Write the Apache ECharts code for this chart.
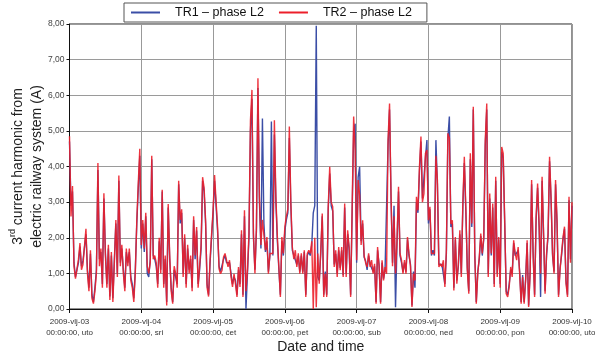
<!DOCTYPE html>
<html>
<head>
<meta charset="utf-8">
<script src="https://cdn.jsdelivr.net/npm/echarts@6/dist/echarts.min.js"></script>
<style>
html,body{margin:0;padding:0;background:#fff;}
#chart{width:595px;height:360px;}
</style>
</head>
<body>
<div id="chart"></div>
<script>
// 3rd harmonic current (A), one reading every 30 minutes, 2009-vlj-03 00:00 .. 2009-vlj-10 00:00
const stepHours = 0.5;

const tickLabels = [
  '2009-vlj-03\n00:00:00, uto',
  '2009-vlj-04\n00:00:00, sri',
  '2009-vlj-05\n00:00:00, čet',
  '2009-vlj-06\n00:00:00, pet',
  '2009-vlj-07\n00:00:00, sub',
  '2009-vlj-08\n00:00:00, ned',
  '2009-vlj-09\n00:00:00, pon',
  '2009-vlj-10\n00:00:00, uto'
];

// TR2 – phase L2, per day
const tr2Day03 = [4.85, 2.6, 3.45, 1.2, 0.85, 0.8, 1.4, 1.85, 1.1, 1.25, 1.3, 2.25, 1.0, 0.5, 1.65, 0.3, 0.15, 0.5, 1.0, 4.1, 1.2, 1.7, 0.6, 3.25, 1.5, 0.6, 1.8, 0.25, 1.6, 0.2, 1.3, 2.5, 0.9, 3.75, 1.2, 1.8, 1.0, 0.5, 1.7, 1.2, 1.7, 0.8, 0.6, 0.2, 1.0, 2.5, 3.55, 4.5];
const tr2Day04 = [1.8, 2.5, 1.7, 2.7, 1.2, 1.0, 1.3, 4.3, 1.4, 1.5, 1.3, 0.6, 2.0, 1.0, 3.35, 0.6, 1.5, 0.1, 2.95, 1.5, 0.5, 0.15, 1.2, 1.0, 0.6, 3.6, 2.5, 2.8, 0.9, 2.1, 0.6, 1.8, 1.0, 1.5, 0.5, 2.6, 1.5, 2.3, 0.6, 1.2, 1.8, 3.7, 3.4, 2.5, 0.6, 0.35, 1.4, 2.1];
const tr2Day05 = [2.77, 3.76, 3.71, 2.31, 1.13, 0.99, 1.09, 1.46, 1.56, 1.37, 1.18, 1.37, 0.9, 0.62, 0.99, 0.7, 0.34, 1.18, 0.62, 2.21, 0.34, 2.77, 0.5, 1.09, 2.12, 5.3, 6.15, 2.12, 1.0, 2.31, 6.48, 3.15, 1.8, 2.5, 2.49, 1.65, 2.02, 0.99, 1.56, 1.6, 1.56, 5.3, 3.15, 2.02, 1.18, 0.34, 2.02, 1.56];
const tr2Day06 = [2.31, 2.6, 2.8, 5.12, 3.0, 1.74, 1.4, 1.65, 1.18, 1.56, 0.99, 1.56, 0.99, 1.65, 0.34, 1.56, 1.65, 1.56, 1.9, 0.0, 2.0, 0.05, 1.56, 0.71, 1.65, 2.68, 0.34, 0.99, 0.34, 2.87, 3.99, 3.0, 2.87, 1.18, 1.65, 0.9, 1.74, 1.09, 1.74, 0.9, 2.96, 0.9, 2.21, 1.74, 0.34, 0.34, 5.4, 4.46];
const tr2Day07 = [1.37, 3.62, 3.2, 1.8, 2.49, 1.5, 1.3, 1.18, 1.56, 1.18, 1.37, 0.99, 1.27, 0.15, 1.74, 1.2, 0.15, 1.37, 0.8, 1.18, 0.99, 4.74, 5.77, 3.2, 1.2, 2.6, 1.0, 1.93, 3.43, 1.56, 1.37, 0.99, 1.37, 0.99, 2.02, 1.56, 1.2, 0.06, 0.99, 0.8, 3.15, 2.77, 3.99, 4.84, 3.0, 3.24, 4.37, 4.46];
const tr2Day08 = [2.49, 2.87, 1.56, 1.56, 1.56, 4.3, 3.62, 1.18, 1.27, 1.18, 1.37, 0.62, 1.65, 4.93, 4.8, 2.39, 2.49, 0.52, 2.02, 0.71, 1.27, 2.21, 0.9, 2.96, 4.27, 2.87, 1.09, 0.43, 4.37, 2.4, 5.68, 1.56, 0.15, 0.99, 1.46, 2.12, 1.56, 2.02, 4.74, 5.77, 0.9, 3.24, 1.56, 2.96, 0.62, 3.71, 0.9, 2.02];
const tr2Day09 = [0.6, 4.55, 4.37, 2.49, 0.43, 0.34, 0.62, 1.18, 0.9, 1.93, 1.56, 1.37, 1.74, 0.99, 0.15, 0.9, 0.15, 0.8, 1.93, 0.06, 0.99, 3.62, 1.5, 0.34, 2.59, 3.52, 2.4, 1.0, 3.71, 2.12, 0.43, 1.56, 2.12, 4.27, 3.15, 1.56, 0.99, 3.62, 2.49, 0.34, 1.09, 1.56, 2.02, 2.31, 0.71, 0.34, 3.15, 1.3, 3.0];

// TR1 – phase L2, per day
const tr1Day03 = [4.7, 2.9, 3.3, 1.3, 0.9, 0.85, 1.3, 1.75, 1.2, 1.35, 1.4, 2.1, 1.1, 0.6, 1.55, 0.4, 0.2, 0.6, 1.1, 3.9, 1.4, 1.6, 0.7, 3.1, 1.6, 0.7, 1.7, 0.35, 1.5, 0.3, 1.4, 2.4, 1.0, 3.6, 1.3, 1.7, 1.1, 0.6, 1.6, 1.3, 1.6, 0.9, 0.7, 0.3, 1.1, 2.4, 3.4, 4.3];
const tr1Day04 = [1.7, 2.4, 1.6, 2.6, 1.0, 0.9, 1.4, 4.2, 1.5, 1.4, 1.2, 0.7, 1.9, 1.1, 3.3, 0.7, 1.4, 0.2, 2.85, 1.4, 0.6, 0.2, 1.1, 0.9, 0.7, 3.5, 2.4, 2.7, 1.0, 2.0, 0.7, 1.7, 1.1, 1.4, 0.6, 2.5, 1.4, 2.2, 0.7, 1.1, 1.7, 3.6, 3.3, 2.4, 0.7, 0.4, 1.3, 2.0];
const tr1Day05 = [2.7, 3.6, 3.6, 2.2, 1.2, 1.05, 1.0, 1.4, 1.5, 1.3, 1.25, 1.3, 1.0, 0.7, 0.9, 0.8, 0.4, 1.1, 0.7, 2.1, 0.4, 2.6, 0.0, 1.0, 2.0, 5.0, 5.9, 2.0, 1.1, 2.2, 6.2, 3.0, 1.7, 5.35, 2.4, 1.6, 1.9, 1.05, 1.5, 5.26, 1.5, 4.9, 3.0, 1.9, 1.1, 0.4, 1.9, 1.5];
const tr1Day06 = [2.2, 2.5, 2.7, 4.8, 2.9, 1.65, 1.5, 1.55, 1.25, 1.5, 1.05, 1.5, 1.05, 1.6, 0.4, 1.5, 1.6, 1.5, 1.8, 2.7, 2.9, 7.95, 0.9, 0.8, 1.55, 2.6, 0.4, 1.05, 0.4, 2.8, 3.8, 2.9, 2.75, 1.25, 1.55, 1.0, 1.65, 1.15, 1.65, 0.95, 2.85, 1.0, 2.1, 1.65, 0.4, 0.4, 5.0, 5.2];
const tr1Day07 = [1.3, 3.7, 3.99, 1.9, 2.4, 1.45, 1.35, 1.1, 1.5, 1.25, 1.3, 1.05, 1.2, 0.2, 1.65, 1.25, 0.2, 1.3, 0.85, 1.1, 1.05, 4.6, 5.6, 3.1, 1.3, 2.9, 0.05, 1.85, 3.3, 1.5, 1.3, 1.05, 1.3, 1.05, 1.95, 1.5, 1.25, 0.1, 1.05, 0.6, 3.0, 2.7, 3.85, 4.7, 3.1, 3.15, 4.25, 4.74];
const tr1Day08 = [2.4, 2.8, 1.5, 1.65, 1.5, 4.74, 3.5, 1.25, 1.2, 1.25, 1.3, 0.7, 1.55, 4.8, 5.4, 2.3, 2.4, 0.6, 1.95, 0.8, 1.2, 2.1, 1.0, 2.85, 4.1, 2.75, 1.15, 0.5, 4.2, 2.3, 5.6, 1.5, 0.2, 1.05, 1.4, 2.05, 1.5, 1.95, 4.6, 5.6, 1.0, 3.1, 1.5, 2.85, 0.7, 3.6, 1.0, 1.95];
const tr1Day09 = [0.7, 4.4, 4.25, 2.4, 0.5, 0.4, 0.7, 1.1, 1.0, 1.85, 1.5, 1.45, 1.65, 1.05, 0.2, 0.95, 0.2, 0.85, 1.85, 0.1, 1.05, 3.5, 1.6, 0.4, 2.5, 3.4, 2.3, 0.34, 3.6, 2.05, 0.5, 1.5, 2.05, 4.15, 3.05, 1.5, 1.05, 3.5, 2.4, 0.4, 1.15, 1.5, 1.95, 2.25, 0.8, 0.4, 3.05, 1.4, 2.9];

const tr1 = [].concat(tr1Day03, tr1Day04, tr1Day05, tr1Day06, tr1Day07, tr1Day08, tr1Day09);
const tr2 = [].concat(tr2Day03, tr2Day04, tr2Day05, tr2Day06, tr2Day07, tr2Day08, tr2Day09);

const toPairs = arr => arr.map((v, i) => [i * stepHours, v]);
const font = '"Liberation Sans", Arial, sans-serif';
const fmtComma = v => v.toFixed(2).replace('.', ',');

const chart = echarts.init(document.getElementById('chart'), null, { renderer: 'canvas' });
chart.setOption({
  animation: false,
  backgroundColor: '#fff',
  textStyle: { fontFamily: font },
  grid: {
    left: 69.5, right: 23, top: 24, bottom: 51,
    containLabel: false, outerBoundsMode: 'none',
    show: true, borderColor: '#222', borderWidth: 1
  },
  legend: {
    left: 124, top: 3,
    padding: [3, 15, 3, 7],
    backgroundColor: '#fff',
    borderColor: '#555', borderWidth: 1,
    icon: 'rect', itemWidth: 29, itemHeight: 2, itemGap: 15,
    textStyle: { fontSize: 12.5, color: '#111', fontFamily: font, padding: [0, 0, 0, 10] },
    data: ['TR1 – phase L2', 'TR2 – phase L2']
  },
  xAxis: {
    type: 'value', min: 0, max: 168, interval: 24,
    name: 'Date and time', nameLocation: 'middle', nameGap: 31, nameMoveOverlap: false,
    nameTextStyle: { fontSize: 14, color: '#222', fontFamily: font },
    axisLine: { lineStyle: { color: '#111', width: 1 } },
    axisTick: { show: true, length: 4, lineStyle: { color: '#111' } },
    axisLabel: {
      fontSize: 8, lineHeight: 10.5, color: '#333', margin: 8,
      formatter: v => tickLabels[Math.round(v / 24)]
    },
    splitLine: { show: true, lineStyle: { color: '#999', width: 1 } }
  },
  yAxis: {
    type: 'value', min: 0, max: 8, interval: 1,
    name: '{t|3}{sup|rd}{t| current harmonic from}\n{t|electric railway system (A)}',
    nameLocation: 'middle', nameRotate: 90, nameGap: 23, nameMoveOverlap: false,
    nameTextStyle: {
      fontFamily: font, color: '#222', lineHeight: 19,
      rich: {
        t: { fontSize: 14, color: '#222', fontFamily: font, lineHeight: 19 },
        sup: { fontSize: 9, color: '#222', fontFamily: font, verticalAlign: 'top', lineHeight: 12 }
      }
    },
    axisLine: { show: true, lineStyle: { color: '#111', width: 1 } },
    axisTick: { show: true, length: 3, lineStyle: { color: '#111' } },
    axisLabel: { fontSize: 8.5, color: '#444', margin: 5, formatter: fmtComma },
    splitLine: { show: true, lineStyle: { color: '#9a9a9a', width: 1 } }
  },
  series: [
    {
      name: 'TR1 – phase L2', type: 'line', data: toPairs(tr1),
      symbol: 'none', showSymbol: false, sampling: null,
      lineStyle: { color: '#3b4ea6', width: 1.4 },
      itemStyle: { color: '#3b4ea6' }
    },
    {
      name: 'TR2 – phase L2', type: 'line', data: toPairs(tr2),
      symbol: 'none', showSymbol: false, sampling: null,
      lineStyle: { color: '#ec1f2a', width: 1.4, opacity: 0.9 },
      itemStyle: { color: '#ec1f2a' }
    }
  ]
});
</script>
</body>
</html>
